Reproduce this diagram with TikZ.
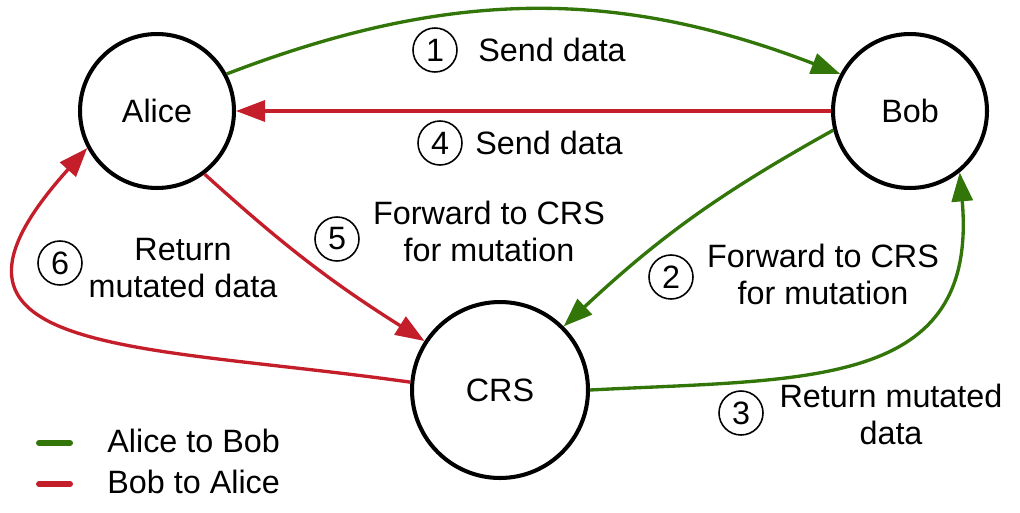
\documentclass[tikz,border=0pt]{standalone}
\usepackage{fontspec}
\setmainfont{Liberation Sans}
\usetikzlibrary{arrows.meta}
\definecolor{atob}{RGB}{50,118,10}
\definecolor{btoa}{RGB}{196,30,42}
\begin{document}
\begin{tikzpicture}[x=0.02cm,y=0.02cm,
	party/.style={circle,draw,line width=2.3pt,minimum size=3.08cm,font=\fontsize{18.4}{21}\selectfont},
	stepnum/.style={circle,draw,line width=0.9pt,minimum size=0.88cm,inner sep=0pt,font=\fontsize{18.4}{21}\selectfont},
	lbl/.style={align=center,inner sep=0pt,font=\fontsize{18.4}{21}\selectfont},
	flow/.style={line width=1.9pt,-{Triangle[length=0.58cm,width=0.42cm]}},
	keyline/.style={line width=3.4pt,line cap=round}]
\useasboundingbox (0,0) rectangle (1020,512);
\node[party] (A) at (157,401) {Alice};
\node[party] (B) at (910,401) {Bob};
\node[party,minimum size=3.52cm] (C) at (500,122) {CRS};
\draw[flow,atob] (A.28) to[bend left=21] (B.152);
\draw[flow,btoa] (B.180) -- (A.0);
\draw[flow,atob] (B.194) to[bend right=7] (C.45);
\draw[flow,atob] (C.0) to[out=3,in=-85,looseness=1.3] (B.-51);
\draw[flow,btoa] (A.-53) to[bend right=5] (C.147);
\draw[flow,btoa] (C.175) to[out=172,in=228,looseness=1.8] (A.208);
\node[stepnum] (n1) at (435,462) {1};
\node[lbl,anchor=west] (t1) at (478,462) {Send data};
\node[stepnum] (n2) at (671,235) {2};
\node[lbl] (t2) at (823,238) {Forward to CRS\\for mutation};
\node[stepnum] (n3) at (741,99) {3};
\node[lbl] (t3) at (891,98) {Return mutated\\data};
\node[stepnum] (n4) at (440,369) {4};
\node[lbl,anchor=west] (t4) at (475,369) {Send data};
\node[stepnum] (n5) at (337,273) {5};
\node[lbl] (t5) at (489,281) {Forward to CRS\\for mutation};
\node[stepnum] (n6) at (60,249) {6};
\node[lbl] (t6) at (183,244) {Return\\mutated data};
\node[lbl,anchor=west] (kA) at (107,71) {Alice to Bob};
\node[lbl,anchor=west] (kB) at (107,30) {Bob to Alice};
\draw[keyline,atob] ([xshift=-1.36cm,yshift=-0.04cm]kA.west) -- ([xshift=-0.74cm,yshift=-0.04cm]kA.west);
\draw[keyline,btoa] ([xshift=-1.36cm,yshift=-0.04cm]kB.west) -- ([xshift=-0.74cm,yshift=-0.04cm]kB.west);
\end{tikzpicture}
\end{document}
